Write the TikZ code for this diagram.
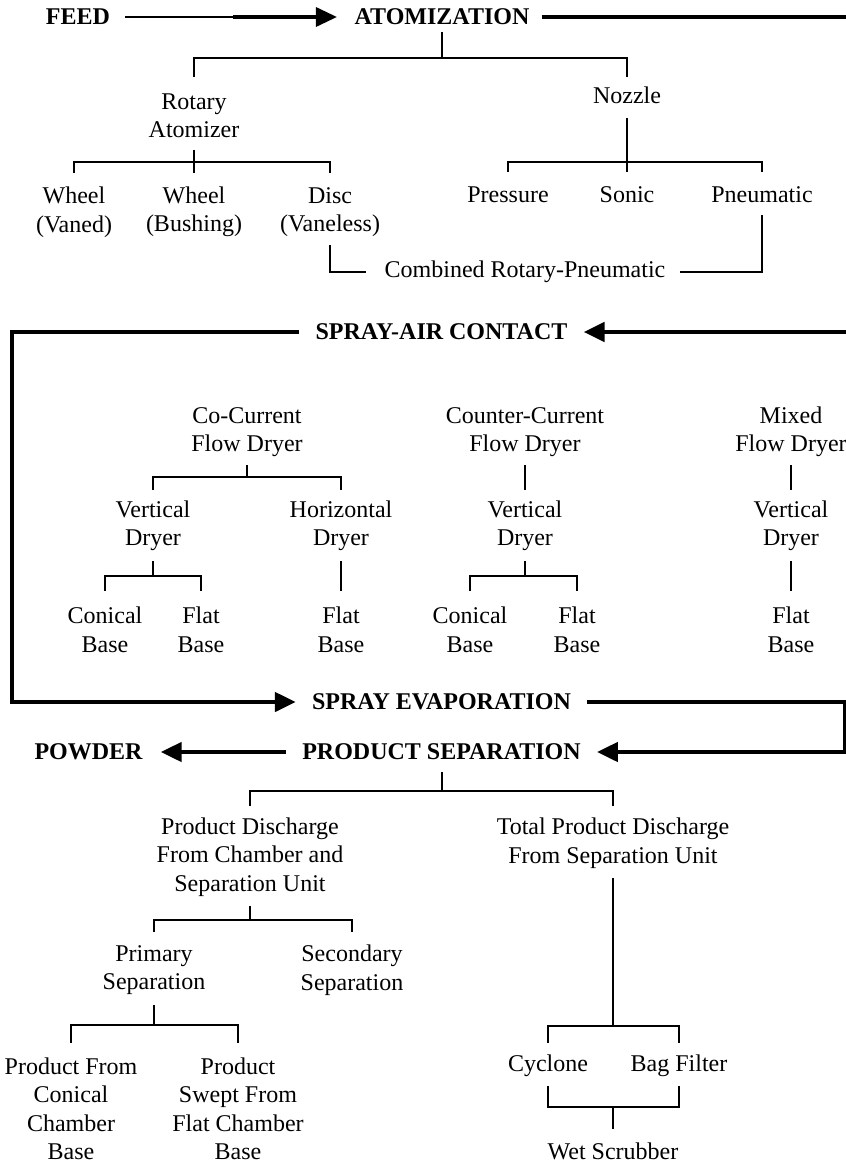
\documentclass[tikz,border=0pt]{standalone}
\usepackage{fontspec}
\setmainfont{Liberation Serif}
\usetikzlibrary{calc,arrows.meta}
\begin{document}
\begin{tikzpicture}[x=1pt,y=-1pt,
  lab/.style={inner sep=0pt, align=center, font=\fontsize{24}{28.5}\selectfont},
  hd/.style={inner sep=0pt, font=\fontsize{24}{28.5}\selectfont\bfseries},
  tl/.style={line width=1.3pt},
  tm/.style={line width=2.2pt},
  thn/.style={line width=2pt},
  thk/.style={line width=4.5pt},
  arr/.style={-{Triangle[length=21pt,width=19pt]}},
]
\fill[white] (0,0) rectangle (846,1165);
\useasboundingbox (0,0) rectangle (846,1165);

% ---------- main flow labels ----------
\node[hd] (feed) at (78,17) {FEED};
\node[hd] (atom) at (442,17) {ATOMIZATION};
\node[hd] (contact) at (441.5,332) {SPRAY-AIR CONTACT};
\node[hd] (evap) at (441.5,702) {SPRAY EVAPORATION};
\node[hd] (prodsep) at (441.5,752) {PRODUCT SEPARATION};
\node[hd] (powder) at (88.5,752) {POWDER};

\coordinate (fmid) at (233,17);
\coordinate (eA) at (846,17);
\coordinate (eC) at (846,332);
\coordinate (L1) at (12,332);
\coordinate (L2) at (12,702);
\coordinate (R1) at (845,702);
\coordinate (R2) at (845,752);

\draw[thn] ($(feed.east)+(15,0)$) -- ($(fmid)+(2,0)$);
\draw[line width=3.4pt, arr] (fmid) -- ($(atom.west)+(-17.5,0)$);
\draw[thk] ($(atom.east)+(12,0)$) -- (eA);
\draw[thk, arr] (eC) -- ($(contact.east)+(16,0)$);
\draw[thk, arr] ($(contact.west)+(-16,0)$) -- (L1) -- (L2) -- ($(evap.west)+(-16,0)$);
\draw[thk, arr] ($(evap.east)+(16,0)$) -- (R1) -- (R2) -- ($(prodsep.east)+(16,0)$);
\draw[thk, arr] ($(prodsep.west)+(-16,0)$) -- ($(powder.east)+(18,0)$);

% ---------- atomization ----------
\node[lab] (rotary) at (194,116) {Rotary\\Atomizer};
\node[lab] (nozzle) at (627,95) {Nozzle};
\node[lab] (wvaned) at (74,212) {Wheel\\(Vaned)};
\node[lab] (wbush) at (194,212) {Wheel\\(Bushing)};
\node[lab] (disc) at (330,212) {Disc\\(Vaneless)};
\node[lab] (pressure) at (508,195) {Pressure};
\node[lab] (sonic) at (627,195) {Sonic};
\node[lab] (pneu) at (762,195) {Pneumatic};
\node[lab] (comb) at (525,272) {Combined Rotary-Pneumatic};

\draw[tl] ($(atom)+(0,15)$) -- ($(atom)+(0,41)$) -| ($(rotary)+(0,-39)$);
\draw[tl] ($(atom)+(0,41)$) -| ($(nozzle)+(0,-18)$);

\draw[tl] ($(rotary)+(0,34)$) -- ($(wbush)+(0,-39)$);
\draw[tl] ($(rotary)+(0,46)$) -| ($(wvaned)+(0,-39)$);
\draw[tl] ($(rotary)+(0,46)$) -| ($(disc)+(0,-39)$);

\draw[tm] ($(nozzle)+(0,23)$) -- ($(sonic)+(0,-23)$);
\draw[tm] ($(nozzle)+(0,67)$) -| ($(pressure)+(0,-23)$);
\draw[tm] ($(nozzle)+(0,67)$) -| ($(pneu)+(0,-23)$);

\draw[tl] ($(disc)+(0,33)$) |- ($(comb.west)+(-18,0)$);
\draw[tm] ($(pneu)+(0,20)$) |- ($(comb.east)+(14,0)$);

% ---------- spray-air contact ----------
\node[lab] (cocur) at (247,432) {Co-Current\\Flow Dryer};
\node[lab] (cntr) at (525,432) {Counter-Current\\Flow Dryer};
\node[lab] (mixed) at (791,432) {Mixed\\Flow Dryer};
\node[lab] (vdry1) at (153,526) {Vertical\\Dryer};
\node[lab] (hdry) at (341,526) {Horizontal\\Dryer};
\node[lab] (vdry2) at (525,526) {Vertical\\Dryer};
\node[lab] (vdry3) at (791,526) {Vertical\\Dryer};
\node[lab] (con1) at (105,630) {Conical\\Base};
\node[lab] (flat1) at (201,630) {Flat\\Base};
\node[lab] (flat2) at (341,630) {Flat\\Base};
\node[lab] (con2) at (470,630) {Conical\\Base};
\node[lab] (flat3) at (577,630) {Flat\\Base};
\node[lab] (flat4) at (791,630) {Flat\\Base};

\draw[tm] ($(cocur)+(0,33)$) -- ($(cocur)+(0,45)$) -| ($(vdry1)+(0,-36)$);
\draw[tm] ($(cocur)+(0,45)$) -| ($(hdry)+(0,-36)$);
\draw[tm] ($(vdry1)+(0,35)$) -- ($(vdry1)+(0,50)$) -| ($(con1)+(0,-39)$);
\draw[tm] ($(vdry1)+(0,50)$) -| ($(flat1)+(0,-39)$);
\draw[tm] ($(hdry)+(0,35)$) -- ($(flat2)+(0,-39)$);
\draw[tl] ($(cntr)+(0,33)$) -- ($(vdry2)+(0,-36)$);
\draw[tm] ($(vdry2)+(0,35)$) -- ($(vdry2)+(0,50)$) -| ($(con2)+(0,-39)$);
\draw[tm] ($(vdry2)+(0,50)$) -| ($(flat3)+(0,-39)$);
\draw[tm] ($(mixed)+(0,33)$) -- ($(vdry3)+(0,-36)$);
\draw[tm] ($(vdry3)+(0,35)$) -- ($(flat4)+(0,-39)$);

% ---------- product separation ----------
\node[lab] (pdis) at (250,857) {Product Discharge\\From Chamber and\\Separation Unit};
\node[lab] (tpd) at (613,843) {Total Product Discharge\\From Separation Unit};
\node[lab] (prim) at (154,970) {Primary\\Separation};
\node[lab] (sec) at (352,970) {Secondary\\Separation};
\node[lab] (pfc) at (71,1108.75) {Product From\\Conical\\Chamber\\Base};
\node[lab] (psf) at (238,1108.75) {Product\\Swept From\\Flat Chamber\\Base};
\node[lab] (cyc) at (548,1066) {Cyclone};
\node[lab] (bag) at (679,1066) {Bag Filter};
\node[lab] (wet) at (613,1151) {Wet Scrubber};

\draw[tm] ($(prodsep)+(0.5,20)$) -- ($(prodsep)+(0.5,39)$) -| ($(pdis)+(0,-51)$);
\draw[tm] ($(prodsep)+(0.5,39)$) -| ($(tpd)+(0,-37)$);
\draw[tm] ($(pdis)+(0,49)$) -- ($(pdis)+(0,63)$) -| ($(prim)+(0,-38)$);
\draw[tm] ($(pdis)+(0,63)$) -| ($(sec)+(0,-38)$);
\draw[tm] ($(prim)+(0,35)$) -- ($(prim)+(0,55)$) -| ($(pfc)+(0,-65.75)$);
\draw[tm] ($(prim)+(0,55)$) -| ($(psf)+(0,-65.75)$);
\draw[tm] ($(tpd)+(0,35)$) -- ($(tpd)+(0,183)$) -| ($(cyc)+(0,-23)$);
\draw[tm] ($(tpd)+(0,183)$) -| ($(bag)+(0,-23)$);
\draw[tm] ($(cyc)+(0,20)$) |- ($(wet)+(0,-44)$) -- ($(wet)+(0,-22)$);
\draw[tm] ($(bag)+(0,20)$) |- ($(wet)+(0,-44)$);
\end{tikzpicture}
\end{document}
